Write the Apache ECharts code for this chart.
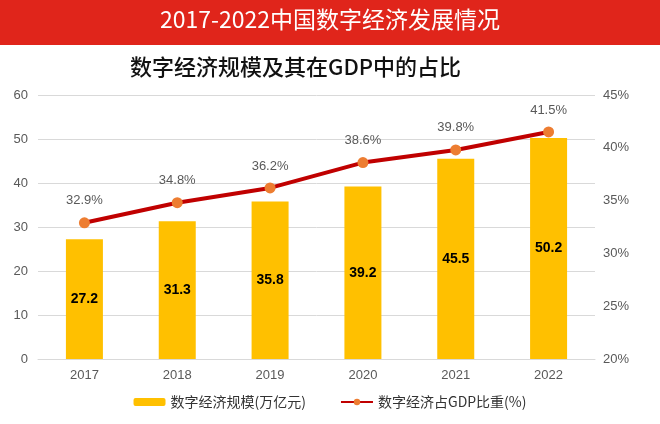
<!DOCTYPE html>
<html><head><meta charset="utf-8">
<script src="https://cdn.jsdelivr.net/npm/echarts@6/dist/echarts.min.js"></script>
<style>html,body{margin:0;padding:0;background:#fff}#c{width:660px;height:424px}</style>
</head><body><div id="c"></div>
<script>
var years = ['2017','2018','2019','2020','2021','2022'];
var scaleValues = [27.2, 31.3, 35.8, 39.2, 45.5, 50.2];
var shareValues = [32.9, 34.8, 36.2, 38.6, 39.8, 41.5];
var leftTicks = {min:0, max:60, interval:10};
var rightTicks = {min:20, max:45, interval:5};
var cjk = '"Noto Sans CJK SC", sans-serif';
var lat = 'Arial, "Liberation Sans", sans-serif';
var chart = echarts.init(document.getElementById('c'));
chart.setOption({
  animation:false,
  graphic:[
    {type:'rect', shape:{x:0,y:0,width:660,height:45}, style:{fill:'#E0251B'}},
    {type:'text', left:'center', top:8, style:{text:'2017-2022中国数字经济发展情况', fill:'#fff', font:'normal 23px '+cjk}},
    {type:'text', left:130, top:56, style:{text:'数字经济规模及其在GDP中的占比', fill:'#111', font:'500 22px '+cjk}}
  ],
  grid:{left:38, right:65, top:95, bottom:65},
  legend:{
    bottom:10, left:'center', itemGap:34, itemWidth:32, itemHeight:8,
    textStyle:{fontFamily:cjk, fontSize:14, color:'#333'},
    data:[{name:'数字经济规模(万亿元)'},{name:'数字经济占GDP比重(%)'}]
  },
  xAxis:{type:'category', data:years,
    axisLine:{lineStyle:{color:'#d9d9d9'}}, axisTick:{show:false},
    axisLabel:{color:'#595959', fontSize:13, margin:10, fontFamily:lat}},
  yAxis:[
    {type:'value', min:leftTicks.min, max:leftTicks.max, interval:leftTicks.interval,
      axisLabel:{color:'#595959', fontSize:13, margin:10, fontFamily:lat},
      splitLine:{lineStyle:{color:'#d9d9d9'}}, axisLine:{show:false}, axisTick:{show:false}},
    {type:'value', min:rightTicks.min, max:rightTicks.max, interval:rightTicks.interval,
      axisLabel:{color:'#595959', fontSize:13, margin:8, formatter:'{value}%', fontFamily:lat},
      splitLine:{show:false}, axisLine:{show:false}, axisTick:{show:false}}
  ],
  series:[
    {name:'数字经济规模(万亿元)', type:'bar', data:scaleValues, barWidth:37,
      itemStyle:{color:'#FFC000'},
      label:{show:true, position:'inside', color:'#000', fontWeight:'bold', fontSize:14, fontFamily:lat}},
    {name:'数字经济占GDP比重(%)', type:'line', yAxisIndex:1, data:shareValues,
      lineStyle:{color:'#C00000', width:4}, itemStyle:{color:'#ED7D31', borderWidth:0},
      symbol:'circle', symbolSize:11,
      label:{show:true, position:'top', distance:10, color:'#595959', fontSize:13, formatter:'{c}%', fontFamily:lat}}
  ]
});
</script></body></html>
